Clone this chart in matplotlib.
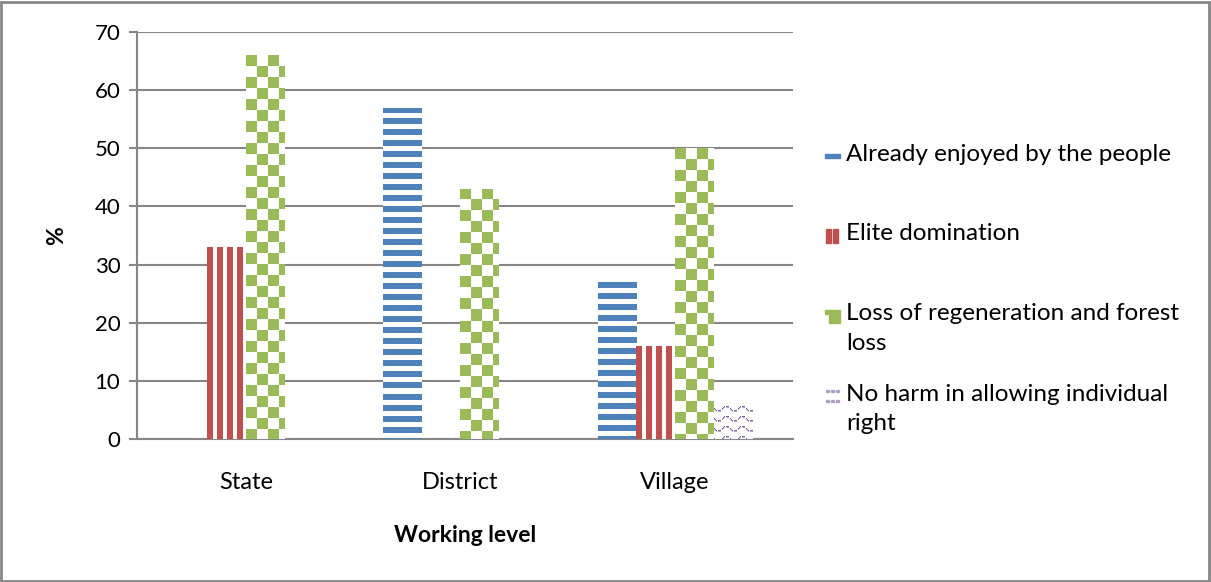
import numpy as np
import matplotlib
matplotlib.use("Agg")
import matplotlib.pyplot as plt
from matplotlib.patches import Rectangle

# survey results, % of respondents per working level
levels = ["State", "District", "Village"]
already = [0, 57, 27]
elite = [33, 0, 16]
regen = [66, 43, 50]
noharm = [0, 0, 6]
series_names = ["Already enjoyed by the people", "Elite domination",
                "Loss of regeneration and forest\nloss",
                "No harm in allowing individual\nright"]

blue = "#4F81BD"
red = "#C0504D"
green = "#9BBB59"
purple = "#8064A2"
grid_c = "#868686"

plt.rcParams["font.family"] = ["Lato", "DejaVu Sans"]

W, H, DPI = 1211, 582, 100
fig = plt.figure(figsize=(W / DPI, H / DPI), dpi=DPI)
ax = fig.add_axes([137 / W, (H - 439) / H, 656 / W, 407 / H])
XLIM = (-0.508, 2.55)
ax.set_xlim(*XLIM)
ax.set_ylim(0, 70)


def hex_rgb(c):
    return np.array(matplotlib.colors.to_rgb(c))


# small pixel tiles used to fill the bars (1 = ink, 0 = paper)
def stripes_h():
    t = np.zeros((11, 1))
    t[0:6, 0] = 1
    return t


def stripes_v():
    t = np.zeros((1, 10))
    t[0, 0:6] = 1
    return t


def checker():
    s = 11
    t = np.zeros((2 * s, 2 * s))
    t[:s, :s] = 1
    t[s:, s:] = 1
    return t


def waves():
    t = np.zeros((10, 16))
    for c in range(16):
        if c % 4 == 3:
            continue
        r = 4 + 2.2 * np.sin(2 * np.pi * c / 16)
        t[int(round(r)), c] = 1.0
        t[min(9, int(round(r)) + 1), c] = 0.55
    return t


def fill_bar(bar, tile, color):
    x0, y0 = bar.get_x(), bar.get_y()
    bw, bh = bar.get_width(), bar.get_height()
    if bh <= 0:
        return
    inv = ax.transData.inverted()
    p0 = inv.transform((0, 0))
    p1 = inv.transform((1, 1))
    dx, dy = p1[0] - p0[0], p1[1] - p0[1]
    nw = int(np.ceil(bw / dx)) + 2
    nh = int(np.ceil(bh / dy)) + 2
    th, tw = tile.shape
    m = np.tile(tile, (nh // th + 1, nw // tw + 1))[:nh, :nw]
    ink = hex_rgb(color)
    img = 1 - m[..., None] * (1 - ink[None, None, :])
    # pattern starts at the top of the bar
    top = y0 + bh
    im = ax.imshow(img, extent=(x0, x0 + nw * dx, top - nh * dy, top),
                   origin="upper", interpolation="nearest", aspect="auto",
                   zorder=3)
    im.set_clip_path(bar)


x = np.arange(len(levels))
w = 0.18
series = [(already, stripes_h(), blue), (elite, stripes_v(), red),
          (regen, checker(), green), (noharm, waves(), purple)]
for i, (vals, tile, col) in enumerate(series):
    bars = ax.bar(x + (i - 1.5) * w, vals, w, color="white", lw=0, zorder=2)
    for b in bars:
        fill_bar(b, tile, col)

ax.set_xlim(*XLIM)
ax.set_ylim(0, 70)
ax.set_yticks(range(0, 71, 10))
ax.yaxis.grid(True, color=grid_c, lw=1.5)
ax.set_axisbelow(True)
ax.set_xticks(x)
ax.set_xticklabels(levels)
ax.tick_params(axis="x", length=0, pad=24, labelsize=17)
ax.tick_params(axis="y", length=6, color=grid_c, width=1.5, labelsize=16, pad=6)
for s in ["top", "right"]:
    ax.spines[s].set_visible(False)
for s in ["left", "bottom"]:
    ax.spines[s].set_color(grid_c)
    ax.spines[s].set_linewidth(1.5)

ax.set_xlabel("Working level", fontsize=16.5, fontweight="bold", labelpad=23)
ax.set_ylabel("%", fontsize=16.5, fontweight="bold", labelpad=20)

# legend drawn by hand so the marker sits on the first text line
leg_y = [157, 236, 316, 397]
for name, ly in zip(series_names, leg_y):
    fig.text(846 / W, 1 - (ly - 13) / H, name, fontsize=17.5, va="top",
             ha="left", linespacing=1.5)
fig.patches.append(Rectangle((825 / W, 1 - 158 / H), 15 / W, 4 / H,
                             color=blue, transform=fig.transFigure))
for xx in (826, 833):
    fig.patches.append(Rectangle((xx / W, 1 - 243 / H), 5 / W, 14 / H,
                                 color=red, transform=fig.transFigure))
fig.patches.append(Rectangle((829 / W, 1 - 323 / H), 11 / W, 13 / H,
                             color=green, transform=fig.transFigure))
fig.patches.append(Rectangle((825 / W, 1 - 314 / H), 4 / W, 4 / H,
                             color=green, transform=fig.transFigure))
for xx in (826, 831, 836):
    for yy in (392, 402):
        fig.patches.append(Rectangle((xx / W, 1 - yy / H), 3 / W, 2 / H,
                                     color=purple, alpha=0.5,
                                     transform=fig.transFigure))

# outer frame
fig.patches.append(Rectangle((0.001, 0.002), 0.997, 0.995, fill=False,
                             edgecolor=grid_c, lw=2,
                             transform=fig.transFigure))

fig.savefig("out.png", dpi=DPI)
